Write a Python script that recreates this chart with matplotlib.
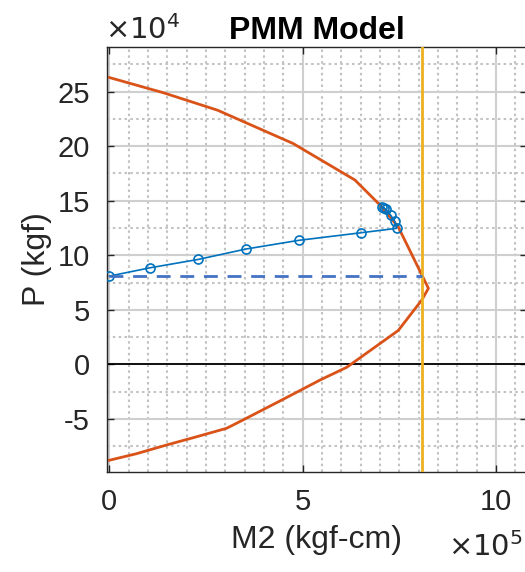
import matplotlib.pyplot as plt
from matplotlib.ticker import MultipleLocator

plt.rcParams["font.family"] = ["Liberation Sans", "DejaVu Sans"]
plt.rcParams["font.size"] = 21

# interaction curve (M2 in 1e5 kgf-cm, P in 1e4 kgf)
pmm_m2 = [0, 1.4, 2.8, 4.75, 6.35, 7.0, 7.47, 8.25, 8.08, 7.47, 6.14, 5.45, 4.5, 3.46, 3.03, 2.2, 1.48, 0.7, 0]
pmm_p = [26.3, 24.9, 23.3, 20.25, 16.9, 14.6, 12.6, 6.97, 5.9, 3.1, -0.27, -1.44, -3.2, -5.1, -5.87, -6.7, -7.4, -8.2, -8.8]

# load path
path_m2 = [0, 1.05, 2.30, 3.53, 4.90, 6.50, 7.43, 7.38, 7.27, 7.15, 7.06, 7.10]
path_p = [8.09, 8.85, 9.62, 10.57, 11.37, 12.06, 12.47, 13.1, 13.7, 14.2, 14.45, 14.3]

p_axial = 8.09      # dashed horizontal
m_cap = 8.09        # yellow vertical

fig = plt.figure(figsize=(5.25, 5.72), dpi=100)
ax = fig.add_axes([106.5 / 525, 1 - 471.7 / 572, (527 - 106.5) / 525, (471.7 - 47) / 572])

ax.plot(pmm_m2, pmm_p, color="#D95319", linewidth=2.0, zorder=3)
ax.plot(path_m2, path_p, color="#0072BD", linewidth=1.2, marker="o",
        markersize=6.5, markerfacecolor="none", markeredgewidth=1.2, zorder=4)
ax.plot([0, m_cap], [p_axial, p_axial], color="#4472C4", linestyle="--",
        linewidth=2.0, dashes=(5, 3.5), zorder=4)
ax.axvline(m_cap, color="#EDB120", linewidth=2.0, zorder=3)
ax.axhline(0, color="black", linewidth=1.3, zorder=2)

ax.set_xlim(-0.075, 10.8)
ax.set_ylim(-9.85, 29.1)
ax.set_xticks([0, 5, 10])
ax.set_yticks([-5, 0, 5, 10, 15, 20, 25])
ax.set_yticklabels(["-5", "0", "5", "10", "15", "20", "25"])
ax.xaxis.set_minor_locator(MultipleLocator(0.5))
ax.yaxis.set_minor_locator(MultipleLocator(2.5))

ax.grid(True, which="major", color="#cfcfcf", linewidth=1.5)
ax.grid(True, which="minor", color="#c2c2c2", linewidth=1.5, linestyle=(0, (1.2, 1.6)))
ax.set_axisbelow(True)

ax.tick_params(which="major", direction="in", length=5, width=1, color="#262626",
               labelcolor="#262626", top=True, right=True, pad=12)
ax.tick_params(which="minor", length=0)
for s in ax.spines.values():
    s.set_color("#262626")
    s.set_linewidth(1.0)

ax.set_xlabel("M2 (kgf-cm)", fontsize=23, color="#262626", labelpad=6)
ax.set_ylabel("P (kgf)", fontsize=23, color="#262626", labelpad=4)
ax.set_title("PMM Model", fontsize=23, fontweight="bold", pad=6)

fig.text(105 / 525, 1 - 30 / 572, r"$\times10^{4}$", fontsize=21, color="#262626",
         va="center", ha="left", math_fontfamily="dejavusans")
fig.text(523 / 525, 1 - 547 / 572, r"$\times10^{5}$", fontsize=21, color="#262626",
         va="center", ha="right", math_fontfamily="dejavusans")

fig.savefig("out.png", dpi=100)
